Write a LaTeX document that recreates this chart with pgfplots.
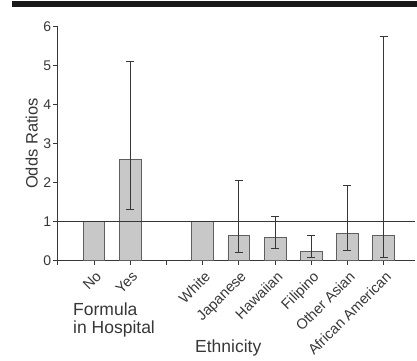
\documentclass[border=0pt]{standalone}
\usepackage{pgfplots}
\pgfplotsset{compat=1.18}
\usepackage{fontspec}
\setmainfont{Liberation Sans}
\definecolor{barfill}{RGB}{200,200,200}
\definecolor{baredge}{RGB}{95,95,95}
\definecolor{axgray}{RGB}{55,55,55}
\begin{document}
\begin{tikzpicture}[x=1pt,y=1pt]
\path[use as bounding box] (0,0) rectangle (417,-360);
\fill[black!90] (12,-1) rectangle (417,-7);
\begin{axis}[
  at={(57.75pt,-260.3pt)}, anchor=south west,
  scale only axis, width=357pt, height=233.6pt,
  xmin=0, xmax=9.86, ymin=0, ymax=6,
  axis x line*=bottom, axis y line*=left,
  axis line style={axgray, line width=0.8pt},
  every tick/.style={axgray, line width=0.8pt},
  tick align=outside, major tick length=4.5pt,
  xtick={0,...,9},
  xticklabels={,No,Yes,,White,Japanese,Hawaiian,Filipino,Other Asian,African American},
  ytick={0,...,6},
  /pgf/number format/assume math mode=true,
  yticklabel style={font=\fontsize{14}{16}\selectfont, text=axgray, inner sep=2pt},
  x tick label style={font=\fontsize{14.5}{16}\selectfont, text=axgray, rotate=45, anchor=north east, inner sep=1.5pt, xshift=-1.5pt, yshift=-3pt},
  ylabel={Odds Ratios},
  ylabel style={font=\fontsize{16.5}{19}\selectfont, text=axgray},
  clip=false,
]
\addplot[ybar, bar shift=0pt, bar width=0.6, fill=barfill, draw=baredge, line width=0.7pt]
  coordinates {(1,1) (4,1)};
\addplot[ybar, bar shift=0pt, bar width=0.6, fill=barfill, draw=baredge, line width=0.7pt,
  error bars/.cd, y dir=both, y explicit,
  error bar style={axgray, line width=0.7pt},
  error mark options={axgray, mark size=4pt, line width=0.7pt, rotate=90}]
  coordinates {
    (2,2.60) += (0,2.52) -= (0,1.28)
    (5,0.63) += (0,1.43) -= (0,0.43)
    (6,0.59) += (0,0.55) -= (0,0.28)
    (7,0.22) += (0,0.42) -= (0,0.14)
    (8,0.69) += (0,1.23) -= (0,0.43)
    (9,0.63) += (0,5.11) -= (0,0.55)
  };
\addplot[axgray, line width=0.8pt] coordinates {(0,1) (9.86,1)};
\end{axis}
\node[anchor=north west, align=left, inner sep=0pt, text=axgray,
  font=\fontsize{17.5}{18}\selectfont] at (73,-303) {Formula\\in Hospital};
\node[anchor=north west, inner sep=0pt, text=axgray,
  font=\fontsize{17.5}{18}\selectfont] at (195,-340) {Ethnicity};
\end{tikzpicture}
\end{document}
